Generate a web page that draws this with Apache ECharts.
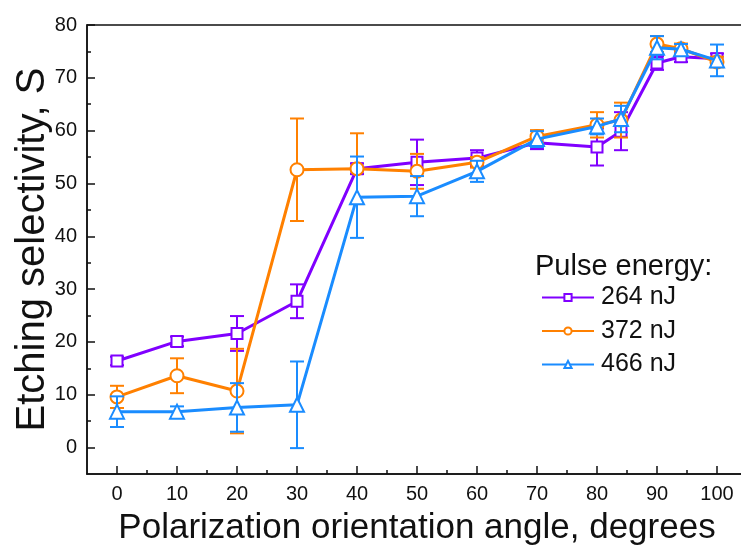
<!DOCTYPE html>
<html>
<head>
<meta charset="utf-8">
<script src="https://cdn.jsdelivr.net/npm/echarts@6/dist/echarts.min.js"></script>
<style>
  html, body { margin: 0; padding: 0; background: #fff; }
  #chart { width: 741px; height: 548px; }
</style>
</head>
<body>
<div id="chart"></div>
<script>
// Polarization angle (degrees)
const angles = [0, 10, 20, 30, 40, 50, 60, 70, 80, 84, 90, 94, 100];

// Etching selectivity and its error for each pulse energy
const s264 = [16.4, 20.1, 21.6, 27.7, 52.8, 54.0, 54.8, 57.7, 56.9, 59.9, 72.8, 74.0, 73.6];
const e264 = [0.8, 0.9, 3.3, 3.2, 1.0, 4.3, 1.5, 1.2, 3.5, 3.6, 1.3, 1.0, 1.0];

const s372 = [9.6, 13.6, 10.7, 52.6, 52.8, 52.3, 54.0, 58.9, 61.1, 62.0, 76.4, 75.5, 73.0];
const e372 = [2.1, 3.3, 8.0, 9.7, 6.7, 3.3, 1.0, 1.2, 2.4, 3.3, 1.5, 1.0, 1.0];

const s466 = [6.8, 6.8, 7.6, 8.1, 47.4, 47.6, 52.3, 58.4, 60.8, 62.2, 75.7, 75.4, 73.3];
const e466 = [2.9, 1.0, 4.6, 8.2, 7.7, 3.8, 2.0, 1.5, 1.5, 2.5, 2.2, 1.0, 3.0];

// Axis ticks
const yMajor = [0, 10, 20, 30, 40, 50, 60, 70, 80];
const yMinor = [5, 15, 25, 35, 45, 55, 65, 75];
const xMajor = [0, 10, 20, 30, 40, 50, 60, 70, 80, 90, 100];
const xMinor = [5, 15, 25, 35, 45, 55, 65, 75, 85, 95];

const names = ['264 nJ', '372 nJ', '466 nJ'];
const colors = ['#8000ff', '#ff8000', '#1a8cff'];
const symbols = ['emptyRect', 'emptyCircle', 'emptyTriangle'];
const symbolSizes = [11, 13, 14];
const values = [s264, s372, s466];
const errors = [e264, e372, e466];

const FONT = 'Liberation Sans, Arial, sans-serif';

// Vertical error bar with caps, positioned through the axes
function errorBarSeries(idx) {
  const data = angles.map((a, i) => [a, values[idx][i] - errors[idx][i], values[idx][i] + errors[idx][i]]);
  return {
    type: 'custom',
    z: 2 + idx * 2,
    silent: true,
    renderItem: function (params, api) {
      const x = api.value(0);
      const lo = api.coord([x, api.value(1)]);
      const hi = api.coord([x, api.value(2)]);
      const half = 7;
      const style = { stroke: colors[idx], lineWidth: 2, fill: null };
      return {
        type: 'group',
        children: [
          { type: 'line', shape: { x1: lo[0], y1: lo[1], x2: hi[0], y2: hi[1] }, style: style },
          { type: 'line', shape: { x1: lo[0] - half, y1: lo[1], x2: lo[0] + half, y2: lo[1] }, style: style },
          { type: 'line', shape: { x1: hi[0] - half, y1: hi[1], x2: hi[0] + half, y2: hi[1] }, style: style }
        ]
      };
    },
    encode: { x: 0, y: [1, 2] },
    data: data
  };
}

function lineSeries(idx) {
  return {
    type: 'line',
    name: names[idx],
    z: 3 + idx * 2,
    data: angles.map((a, i) => [a, values[idx][i]]),
    symbol: symbols[idx],
    symbolSize: symbolSizes[idx],
    showAllSymbol: true,
    color: colors[idx],
    lineStyle: { color: colors[idx], width: 3 },
    itemStyle: { color: colors[idx], borderColor: colors[idx], borderWidth: 2.5 },
    emphasis: { disabled: true }
  };
}

const series = [];
for (let k = 0; k < 3; k++) {
  series.push(errorBarSeries(k));
  series.push(lineSeries(k));
}

const chart = echarts.init(document.getElementById('chart'), null, { renderer: 'canvas' });
chart.setOption({
  animation: false,
  backgroundColor: '#fff',
  title: {
    text: 'Pulse energy:',
    left: 535,
    top: 252,
    textStyle: { fontFamily: FONT, fontSize: 29, fontWeight: 'normal', color: '#111' },
    padding: 0
  },
  legend: {
    data: names,
    orient: 'vertical',
    left: 541,
    top: 285,
    itemWidth: 52,
    itemHeight: 9,
    itemGap: 8.5,
    padding: 0,
    selectedMode: false,
    textStyle: { fontFamily: FONT, fontSize: 25, color: '#111', padding: [0, 0, 0, 2] }
  },
  grid: {
    left: 87, top: 25, right: -6, bottom: 74,
    containLabel: false,
    outerBoundsMode: 'none',
    show: true, borderColor: '#111', borderWidth: 1.5, backgroundColor: 'transparent'
  },
  xAxis: [
    {
      type: 'value', min: -5, max: 105,
      name: 'Polarization orientation angle, degrees',
      nameLocation: 'middle', nameGap: 37, nameMoveOverlap: false,
      nameTextStyle: { fontFamily: FONT, fontSize: 35, color: '#111' },
      axisLine: { onZero: false, lineStyle: { color: '#111', width: 1.5 } },
      axisTick: { inside: true, length: 8, lineStyle: { color: '#111', width: 1.5 }, customValues: xMajor },
      axisLabel: { fontFamily: FONT, fontSize: 20, color: '#111', margin: 10, customValues: xMajor },
      splitLine: { show: false }
    },
    {
      type: 'value', min: -5, max: 105, position: 'bottom',
      axisLine: { show: false, onZero: false },
      axisTick: { inside: true, length: 4, lineStyle: { color: '#111', width: 1.5 }, customValues: xMinor },
      axisLabel: { show: false },
      splitLine: { show: false }
    }
  ],
  yAxis: [
    {
      type: 'value', min: -5, max: 80,
      name: 'Etching selectivity, S',
      nameLocation: 'middle', nameGap: 34, nameMoveOverlap: false,
      nameTextStyle: { fontFamily: FONT, fontSize: 40, color: '#111' },
      axisLine: { show: true, onZero: false, lineStyle: { color: '#111', width: 1.5 } },
      axisTick: { show: true, inside: true, length: 8, lineStyle: { color: '#111', width: 1.5 }, customValues: yMajor },
      axisLabel: { fontFamily: FONT, fontSize: 20, color: '#111', margin: 10, customValues: yMajor },
      splitLine: { show: false }
    },
    {
      type: 'value', min: -5, max: 80, position: 'left',
      axisLine: { show: false, onZero: false },
      axisTick: { show: true, inside: true, length: 4, lineStyle: { color: '#111', width: 1.5 }, customValues: yMinor },
      axisLabel: { show: false },
      splitLine: { show: false }
    }
  ],
  series: series
});
</script>
</body>
</html>
